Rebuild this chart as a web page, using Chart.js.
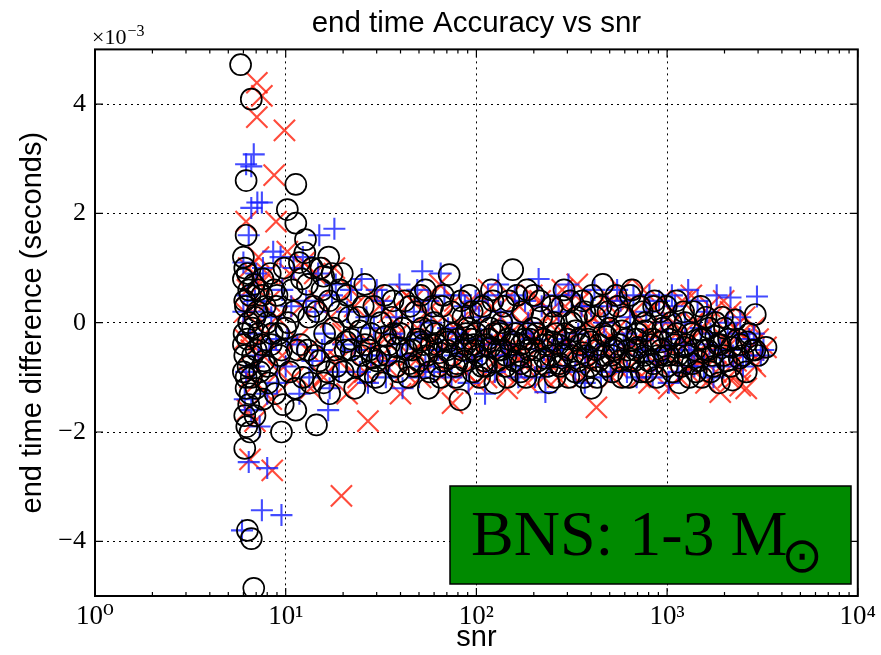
<!DOCTYPE html>
<html>
<head>
<meta charset="utf-8">
<script src="https://cdn.jsdelivr.net/npm/chart.js@4/dist/chart.umd.min.js"></script>
<style>
  body { margin: 0; background: #fff; }
</style>
</head>
<body>
<canvas id="accuracyChart" width="881" height="655"></canvas>
<script>
// values: [snr, end time difference in units of 1e-3 s]
var redPoints = [
  [7.06,4.39],[7.5,4.15],[7.06,3.76],[9.85,3.52],[8.7,2.7],[6.2,1.85],[8.9,1.85],[6.4,1.0],[7.3,0.7],[6.1,0.2],
  [6.6,-0.5],[7.0,-1.1],[6.3,-1.6],[6.5,-2.5],[8.5,-2.7],[7.8,-0.2],[8.2,0.4],[9.2,-0.9],[10.5,0.9],[11.5,-0.3],
  [12.5,1.1],[13.5,-1.2],[15,0.4],[16.5,-0.6],[18,1.0],[19.6,-3.17],[20,-0.2],[22,0.6],[24,-1.0],[27,-1.8],
  [28,-0.4],[31,0.3],[34,-0.8],[37,0.0],[40,-1.3],[43,0.5],[47,-0.5],[51,-1.0],[55,0.2],[59,-0.3],
  [64,0.7],[69,-0.9],[75,-1.47],[80,0.0],[86,-0.6],[93,0.4],[100,-1.1],[108,-0.2],[116,0.6],[125,-0.7],
  [134,0.1],[145,-1.2],[156,-0.4],[168,0.3],[180,-0.8],[195,0.5],[210,-0.1],[226,-1.0],[243,0.2],[262,-0.5],
  [282,0.6],[304,-0.9],[327,-0.2],[352,0.4],[380,-0.7],[410,0.1],[426,-1.55],[445,-0.4],[480,0.5],[515,-1.0],
  [555,-0.1],[600,0.3],[645,-0.8],[695,-0.3],[750,0.6],[805,-1.1],[865,-0.2],[930,0.4],[1000,-0.6],[1080,0.0],
  [1160,-1.0],[1250,-0.4],[1340,0.5],[1440,-0.7],[1550,-0.1],[1670,0.3],[1800,-0.9],[1900,-1.27],[2000,-0.3],[2150,0.2],
  [2300,-0.7],[2450,-0.2],[2650,-0.5],[2850,-0.1],[3300,-0.45],[2420,-1.15],
  [25,-0.4],[33,-0.3],[45,-0.6],[57,-0.4],[72,-0.3],[90,-0.5],[112,-0.4],[140,-0.3],[175,-0.6],[218,-0.4],
  [272,-0.2],[340,-0.5],[425,-0.3],[530,-0.6],[660,-0.4],[830,-0.3],[1040,-0.5],[1300,-0.3],[1620,-0.6],[2050,-0.4],
  [6.1,-0.3],[6.3,0.6],[6.5,-1.0],[6.7,0.2],[6.9,-1.8],[7.2,1.2],[7.6,-0.6],[8.0,0.9],[8.4,-1.4],[9.0,0.1],
  [9.6,-0.6],[10.2,1.3],[11.0,-1.0],[12.0,0.3],[13.0,-0.5],[14.2,0.9],[15.8,-1.0],[17.2,0.1],[19,-0.7],[21,-1.3],
  [23,0.3],[26,-0.9],[29,0.5],[32,-0.6],[35,0.2],[39,-0.2],[42,-0.9],[46,0.4],[49,-0.1],[53,-0.8],
  [58,0.5],[62,-0.6],[67,0.1],[71,-1.1],[77,0.4],[83,-0.3],[88,-0.9],[96,0.2],[104,-0.5],[113,-1.0],
  [120,0.3],[130,-0.2],[138,-0.9],[150,0.5],[162,-0.6],[172,0.0],[186,-1.1],[200,-0.3],[216,0.4],[234,-0.7],
  [252,0.0],[268,-1.0],[292,0.3],[315,-0.5],[338,0.7],[362,-1.0],[395,0.0],[418,-0.7],[460,-0.1],[498,0.3],
  [540,-0.8],[575,0.6],[620,-0.5],[670,0.2],[720,-1.0],[780,-0.1],[840,0.3],[900,-0.8],[960,0.1],[1020,-1.2],
  [1120,-0.2],[1200,0.4],[1290,-0.9],[1390,0.0],[1490,-0.5],[1600,-1.1],[1720,0.1],[1850,-0.6],[1980,0.4],[2100,-1.0],
  [2250,-0.1],[2400,-0.9],[2550,0.1],[2750,-0.7],[3000,-0.3],[2600,-1.2],[2900,-0.8]
];
var bluePoints = [
  [6.6,2.86],[6.8,3.08],[6.2,2.9],[7.1,2.2],[7.5,2.2],[6.6,2.1],[18,1.72],[15,1.6],[5.9,-3.8],[7.5,-3.43],
  [9.5,-3.52],[8.0,-2.66],[6.4,-2.55],[16.7,-1.6],[6.0,1.1],[6.3,0.5],[6.5,-0.2],[6.8,-0.8],[6.1,-1.4],[7.0,0.9],
  [7.3,-1.9],[7.7,0.2],[8.2,-0.5],[8.6,1.3],[9.0,-1.1],[9.6,0.6],[10.2,-0.3],[11,1.0],[11.8,-1.3],[12.8,0.4],
  [13.8,-0.7],[14.8,0.9],[16,-0.2],[17.5,0.5],[19,-0.9],[21,0.2],[23,-0.5],[25,0.8],[27,-1.1],[29,-0.1],
  [32,0.4],[35,-0.7],[38,0.1],[41,-1.2],[45,-0.3],[49,0.6],[52,0.94],[54,-0.8],[58,0.0],[63,-0.5],
  [68,0.5],[74,-1.0],[80,-0.2],[87,0.3],[95,-0.7],[103,0.1],[111,-1.3],[120,-0.4],[130,0.7],[141,-0.6],
  [153,0.0],[166,-1.0],[180,0.4],[195,-0.3],[212,0.8],[230,-1.27],[250,-0.5],[270,0.2],[292,-0.8],[316,0.5],
  [342,-0.2],[370,-1.1],[400,0.3],[433,-0.6],[468,0.0],[506,-0.9],[547,0.6],[592,-0.4],[640,0.1],[692,-1.0],
  [748,-0.3],[808,0.5],[873,-0.7],[944,0.0],[1020,-1.1],[1100,0.3],[1190,-0.4],[1290,0.6],[1390,-0.8],[1500,-0.1],
  [1620,0.2],[1750,-1.0],[1890,-0.5],[2150,0.46],[2960,0.48],[2300,-0.2],[2500,-0.8],[2700,-0.3],[3100,-0.6],
  [24,-0.3],[31,-0.6],[40,-0.4],[51,-0.2],[66,-0.5],[84,-0.3],[107,-0.6],[138,-0.4],[176,-0.2],[226,-0.5],
  [290,-0.3],[372,-0.6],[478,-0.4],[612,-0.2],[786,-0.5],[1010,-0.3],[1300,-0.6],[1670,-0.4],[2140,-0.5],
  [6.0,0.2],[6.2,-0.9],[6.4,1.6],[6.6,-1.6],[6.9,0.4],[7.2,-0.6],[7.6,1.0],[8.0,-1.3],[8.4,0.1],[8.9,-0.3],
  [9.4,1.2],[10,-0.8],[10.7,0.3],[11.5,-0.4],[12.3,1.2],[13.3,-1.0],[14.3,0.2],[15.5,-0.5],[17,-1.2],[18.3,0.7],
  [20,-0.4],[22,0.6],[24.5,-0.9],[26.5,0.1],[28,-0.6],[30,0.6],[33.5,-1.0],[36.5,-0.2],[39.5,0.7],[43,-0.6],
  [47,0.2],[50,-1.0],[56,0.4],[60,-0.9],[65,0.9],[71,-0.1],[77,-0.6],[83,0.5],[91,-1.1],[99,0.4],
  [106,-0.3],[115,0.5],[125,-0.9],[134,0.2],[147,-0.6],[159,0.5],[172,-0.8],[187,0.0],[203,-1.0],[220,0.3],
  [240,-0.8],[260,0.5],[281,-0.4],[304,0.7],[330,-0.9],[356,0.3],[385,-0.5],[416,0.6],[450,-1.0],[487,0.3],
  [527,-0.5],[570,0.4],[616,-0.9],[666,0.5],[720,-0.6],[778,0.2],[840,-1.0],[908,0.4],[980,-0.5],[1060,0.5],
  [1145,-0.9],[1240,0.0],[1340,-0.5],[1445,0.4],[1560,-0.8],[1690,-0.2],[1820,0.5],[1970,-0.8],[2080,0.0],[2220,-0.6],
  [2420,0.1],[2600,-0.6],[2850,-0.2],[3200,-0.5]
];
var blackPoints = [
  [5.8,4.72],[6.6,4.09],[6.2,2.6],[6.0,1.2],[6.1,0.4],[6.3,-0.3],[6.0,-0.9],[6.2,-1.0],[6.4,-1.5],[6.1,-1.7],
  [6.5,-2.0],[6.3,-3.8],[6.6,-3.95],[6.8,-4.86],[6.7,-0.6],[6.9,0.1],[7.0,-1.2],[7.2,0.6],[7.4,-0.4],[7.6,-1.4],
  [7.8,0.3],[8.0,-0.8],[8.3,0.9],[8.5,-0.2],[8.8,-1.3],[9.0,0.5],[9.5,-2.0],[9.3,-0.6],[9.8,1.0],[10.2,2.07],
  [11.3,1.82],[11.3,2.53],[10.5,-0.9],[11.0,0.2],[11.3,-1.6],[12.0,-0.4],[12.6,1.28],[12.7,1.52],[13.0,0.7],[13.5,-1.1],
  [14.5,-1.87],[14.0,0.3],[15.0,-0.7],[15.5,0.6],[16.0,-0.2],[17.0,-1.3],[17.5,0.9],[18.0,-0.5],[19,0.2],[20,-0.9],
  [21,0.5],[22,-0.3],[23,-1.2],[24,0.1],[25,-0.6],[26,0.7],[27,-0.9],[28,-0.2],[29,0.3],[30,-0.7],
  [32,-1.1],[33,0.5],[35,-0.4],[36,0.1],[38,-0.8],[40,-0.2],[42,0.4],[44,-1.0],[46,-0.5],[48,0.2],
  [50,-0.7],[52,-0.1],[54,0.6],[56,-1.2],[58,-0.4],[60,0.0],[63,-0.8],[66,0.3],[69,-0.3],[72,0.88],
  [75,-0.6],[78,-1.0],[82,-1.41],[85,0.1],[88,-0.4],[92,0.5],[96,-0.9],[100,-0.2],[105,0.2],[110,-0.7],
  [115,-0.3],[120,0.6],[125,-1.1],[130,-0.5],[136,0.0],[142,-0.8],[148,0.4],[155,0.97],[160,-0.2],[168,-0.6],
  [175,0.2],[182,-1.0],[190,-0.3],[200,0.5],[210,-0.7],[220,0.1],[230,-0.4],[240,-1.1],[250,0.3],[262,-0.2],
  [275,-0.8],[288,0.6],[300,-0.5],[315,0.0],[330,-0.9],[345,-0.3],[360,0.4],[380,-0.6],[400,-1.2],[420,0.1],
  [440,-0.4],[460,0.7],[480,-0.8],[500,-0.1],[525,-0.5],[550,0.3],[580,-1.0],[610,-0.3],[640,0.5],[670,-0.7],
  [700,-0.2],[740,0.2],[780,-0.9],[820,-0.4],[860,0.4],[900,-0.6],[950,-0.1],[1000,-0.8],[1050,0.0],[1100,-0.4],
  [1160,-1.1],[1220,0.2],[1280,-0.6],[1350,-0.2],[1420,-0.9],[1500,0.3],[1580,-0.5],[1660,-0.1],[1750,-0.8],[1850,-0.4],
  [1950,0.1],[2050,-0.7],[2200,-1.05],[2350,-0.3],[2500,-0.6],[2700,-0.2],[2900,0.15],[3300,-0.45],
  [22,-0.5],[26,-0.4],[31,-0.6],[37,-0.2],[43,-0.5],[49,-0.3],[55,-0.6],[62,-0.4],[68,-0.7],[76,-0.2],
  [84,-0.5],[94,-0.3],[102,-0.6],[112,-0.4],[124,-0.2],[135,-0.5],[146,-0.3],[158,-0.7],[172,-0.4],[186,-0.2],
  [205,-0.5],[225,-0.3],[245,-0.6],[268,-0.4],[292,-0.2],[320,-0.6],[350,-0.4],[385,-0.3],[425,-0.5],[465,-0.2],
  [510,-0.6],[560,-0.4],[620,-0.5],[690,-0.3],[760,-0.6],[840,-0.3],[930,-0.5],[1030,-0.3],[1140,-0.6],[1260,-0.4],
  [1400,-0.5],[1550,-0.3],[1720,-0.6],[1900,-0.4],[2100,-0.3],
  [6.0,0.8],[6.05,-0.2],[6.1,-0.6],[6.15,0.3],[6.2,-1.2],[6.3,0.9],[6.35,-0.8],[6.4,0.0],[6.5,0.5],[6.5,-1.3],
  [6.7,-0.1],[6.8,0.7],[7.0,-0.5],[7.1,0.2],[7.3,-0.9],[7.5,0.5],[7.7,-0.7],[8.0,0.0],[8.4,-0.4],[8.9,0.3],
  [9.5,-0.5],[10.0,-0.1],[6.1,-2.3],[6.2,1.6],
  [10.8,0.6],[11.5,-0.5],[12.3,-1.0],[13.2,0.1],[14.2,-0.6],[15.3,1.0],[16.5,-0.9],[17.8,-0.1],[19.2,0.6],[20.5,-0.5],
  [11.8,1.1],[13.8,1.0],[15.8,0.85],[16.8,1.2],
  [21.5,0.1],[23.5,-0.8],[25.5,0.3],[27.5,-0.5],[29.5,-1.0],[31.5,0.0],[34,-0.6],[36.5,0.4],[39,-0.9],[41,-0.1],
  [45,0.3],[47,-0.8],[51,0.5],[53,-0.4],[57,-0.9],[59,0.3],[61,-0.2],[65,-1.0],[67,0.5],[70,-0.5],
  [74,0.2],[77,-0.8],[80,-0.3],[83,0.4],[87,-0.7],[90,-0.1],[95,0.2],[98,-0.5],[104,-1.0],[108,0.3],
  [113,-0.8],[118,-0.1],[122,0.4],[128,-0.7],[133,-0.2],[139,0.3],[145,-1.0],[151,-0.4],[163,0.5],[170,-0.9],
  [178,-0.3],[184,0.6],[193,-0.8],[198,-0.1],[215,0.4],[235,-0.8],[255,0.0],[258,-1.0],[280,0.3],[283,-0.6],
  [305,-1.0],[310,0.4],[335,0.1],[340,-0.7],[365,-1.0],[370,0.2],[395,-0.8],[405,0.5],[430,-1.0],[450,0.3],
  [470,-0.6],[490,0.2],[515,-0.9],[540,0.5],[565,-0.7],[595,0.1],[630,-1.0],[655,0.6],[680,-0.5],[720,0.3],
  [730,-0.9],[770,0.0],[800,-0.7],[850,0.3],[880,-1.0],[920,0.2],[970,-0.6],[990,0.3],[1070,-0.9],[1120,0.4],
  [1190,-0.8],[1240,0.0],[1310,-1.0],[1380,0.2],[1460,-0.7],[1520,-1.0],[1600,0.1],[1690,-0.9],[1800,0.0],[1880,-1.1],
  [2000,-0.1],[2150,-0.8],[2280,0.05],[2420,-0.4],[2600,-0.9],[2800,-0.5],[3000,-0.6],
  [10.3,0.0],[11.2,-1.2],[12.1,0.8],[13.0,-0.5],[14.6,0.2],[15.8,-1.1],[16.9,0.4],[18.5,-0.8],[19.8,0.9],
  [6.0,-0.4],[6.1,1.0],[6.25,-1.9],[6.4,0.6],[6.6,-1.0],[6.9,-1.7],[7.2,-0.2],[7.6,0.8],[8.1,-1.1],[8.7,0.6],
  [9.2,-0.2],[9.7,-1.5],
  [20.8,-0.35],[24.5,-0.15],[28.5,-0.65],[33.5,-0.25],[38.5,-0.45],[44.5,-0.75],[50.5,-0.35],[57.5,-0.15],[64,-0.55],[71,-0.35],
  [79,-0.75],[88,-0.2],[97,-0.4],[107,-0.8],[118,-0.45],[131,-0.15],[143,-0.6],[157,-0.35],[171,-0.75],[188,-0.5],
  [207,-0.2],[228,-0.65],[250,-0.35],[274,-0.75],[300,-0.3],[330,-0.15],[362,-0.55],[398,-0.35],[437,-0.7],[480,-0.25],
  [528,-0.45],[580,-0.15],[637,-0.7],[700,-0.45],[770,-0.15],[846,-0.75],[930,-0.35],[1020,-0.6],[1122,-0.2],[1233,-0.45],
  [1355,-0.75],[1490,-0.3],[1637,-0.5],[1800,-0.25],[1980,-0.6],[2175,-0.45],[2390,-0.65],[2630,-0.35],[2890,-0.5]
];

var xTickValues = [1, 10, 100, 1000, 10000];
var xTickLabels = ['10\u2070', '10\u00b9', '10\u00b2', '10\u00b3', '10\u2074'];
var yTickValues = [-4, -2, 0, 2, 4];
var yTickLabels = ['\u22124', '\u22122', '0', '2', '4'];

var titleText = 'end time Accuracy vs snr';
var xTitle = 'snr';
var yTitle = 'end time difference (seconds)';
var boxText = 'BNS: 1-3 M';
var sunSymbol = '\u2299';

function toXY(list) {
  return list.map(function (p) { return {x: p[0], y: p[1]}; });
}

var serif = '"Liberation Serif", "DejaVu Serif", serif';
var sans = '"Liberation Sans", Arial, sans-serif';

// frame, inward ticks, exponent label and the green label box
var decorations = {
  id: 'decorations',
  afterDatasetsDraw: function (chart) {
    var ctx = chart.ctx;
    var a = chart.chartArea;
    var xs = chart.scales.x, ys = chart.scales.y;
    ctx.save();
    ctx.strokeStyle = '#000';
    ctx.lineWidth = 2;
    ctx.strokeRect(a.left, a.top, a.right - a.left, a.bottom - a.top);

    ctx.lineWidth = 1.2;
    ctx.beginPath();
    xTickValues.forEach(function (v) {
      var px = xs.getPixelForValue(v);
      ctx.moveTo(px, a.bottom); ctx.lineTo(px, a.bottom - 8);
      ctx.moveTo(px, a.top); ctx.lineTo(px, a.top + 8);
    });
    for (var d = 1; d < 10000; d *= 10) {
      for (var k = 2; k < 10; k++) {
        var px = xs.getPixelForValue(d * k);
        ctx.moveTo(px, a.bottom); ctx.lineTo(px, a.bottom - 4);
        ctx.moveTo(px, a.top); ctx.lineTo(px, a.top + 4);
      }
    }
    yTickValues.forEach(function (v) {
      var py = ys.getPixelForValue(v);
      ctx.moveTo(a.left, py); ctx.lineTo(a.left + 8, py);
      ctx.moveTo(a.right, py); ctx.lineTo(a.right - 8, py);
    });
    ctx.stroke();

    // x10^-3 multiplier
    ctx.fillStyle = '#000';
    ctx.textAlign = 'left';
    ctx.textBaseline = 'alphabetic';
    ctx.font = '22px ' + serif;
    ctx.fillText('\u00d710', a.left - 3, 44);
    var w = ctx.measureText('\u00d710').width;
    ctx.font = '16px ' + serif;
    ctx.fillText('\u22123', a.left - 2 + w, 36);

    // green box
    ctx.fillStyle = '#008a00';
    ctx.fillRect(450, 486, 401, 98);
    ctx.lineWidth = 1.5;
    ctx.strokeStyle = '#000';
    ctx.strokeRect(450, 486, 401, 98);
    ctx.fillStyle = '#000';
    ctx.font = '64px ' + serif;
    ctx.fillText(boxText, 471, 555);
    ctx.font = '100px "DejaVu Sans"';
    var m = ctx.measureText(sunSymbol);
    var h = m.actualBoundingBoxAscent + m.actualBoundingBoxDescent;
    var size = 100 * 33 / h;
    ctx.font = size + 'px "DejaVu Sans"';
    m = ctx.measureText(sunSymbol);
    var gx = 806 - (m.actualBoundingBoxRight - m.actualBoundingBoxLeft) / 2 + m.actualBoundingBoxLeft;
    var gy = 556 + (m.actualBoundingBoxAscent - m.actualBoundingBoxDescent) / 2;
    ctx.fillText(sunSymbol, gx, gy);
    ctx.restore();
  }
};

var ctx = document.getElementById('accuracyChart').getContext('2d');
var chart = new Chart(ctx, {
  type: 'scatter',
  data: {
    datasets: [{
      label: 'red',
      data: toXY(redPoints),
      pointStyle: 'crossRot',
      pointRadius: 15,
      borderWidth: 2.1,
      borderColor: 'rgba(255, 30, 10, 0.8)',
      backgroundColor: 'rgba(255, 30, 10, 0.8)',
      order: 3
    }, {
      label: 'blue',
      data: toXY(bluePoints),
      pointStyle: 'cross',
      pointRadius: 11,
      borderWidth: 2.1,
      borderColor: 'rgba(20, 30, 255, 0.8)',
      backgroundColor: 'rgba(20, 30, 255, 0.8)',
      order: 2
    }, {
      label: 'black',
      data: toXY(blackPoints),
      pointStyle: 'circle',
      pointRadius: 10.5,
      borderWidth: 1.7,
      borderColor: '#000',
      backgroundColor: 'rgba(0,0,0,0)',
      order: 1
    }]
  },
  options: {
    responsive: false,
    animation: false,
    events: [],
    layout: {padding: {left: 0, right: 18, top: 0, bottom: 0}},
    plugins: {
      legend: {display: false},
      tooltip: {enabled: false},
      title: {
        display: true,
        fullSize: false,
        text: titleText,
        color: '#000',
        font: {family: sans, size: 29.5, weight: 'normal'},
        padding: {top: 6, bottom: 8}
      }
    },
    scales: {
      x: {
        type: 'logarithmic',
        min: 1,
        max: 10000,
        afterBuildTicks: function (s) { s.ticks = xTickValues.map(function (v) { return {value: v}; }); },
        afterFit: function (s) { s.height = 59; },
        ticks: {
          autoSkip: false,
          maxRotation: 0,
          padding: 5,
          color: '#000',
          font: {family: serif, size: 27},
          callback: function (v, i) { return xTickLabels[i]; }
        },
        grid: {color: '#000', lineWidth: 1, drawTicks: false},
        border: {display: false, dash: [2, 4]},
        title: {display: true, text: xTitle, color: '#000', font: {family: sans, size: 29}, padding: {top: 0, bottom: 0}}
      },
      y: {
        min: -5,
        max: 5,
        afterBuildTicks: function (s) { s.ticks = yTickValues.map(function (v) { return {value: v}; }); },
        afterFit: function (s) { s.width = 95; },
        ticks: {
          padding: 9,
          color: '#000',
          font: {family: serif, size: 26},
          callback: function (v, i) { return yTickLabels[i]; }
        },
        grid: {color: '#000', lineWidth: 1, drawTicks: false},
        border: {display: false, dash: [2, 4]},
        title: {display: true, text: yTitle, color: '#000', font: {family: sans, size: 29}, padding: {top: 16, bottom: 0}}
      }
    }
  },
  plugins: [decorations]
});
</script>
</body>
</html>
